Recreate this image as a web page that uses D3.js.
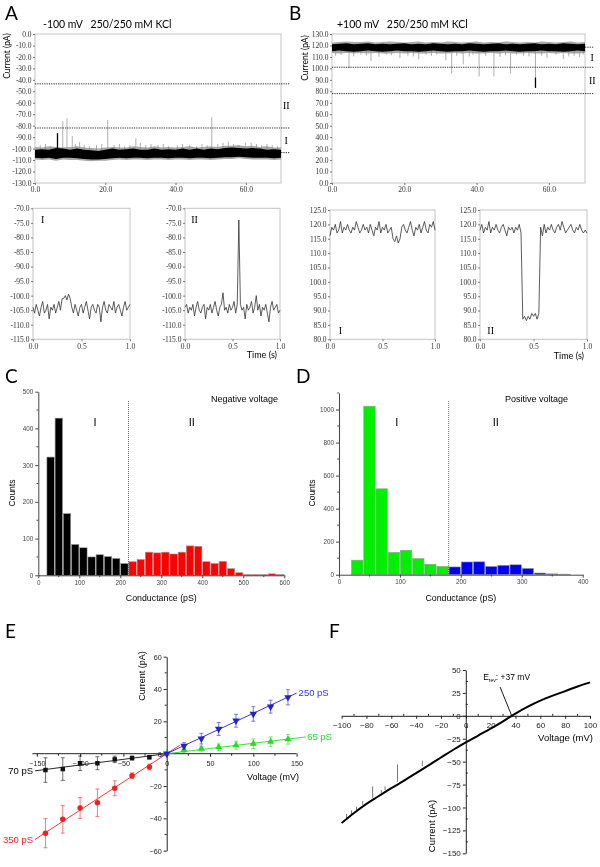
<!DOCTYPE html>
<html><head><meta charset="utf-8">
<script src="https://cdn.jsdelivr.net/npm/d3@7"></script>
<style>body{margin:0;background:#fff}svg{display:block;will-change:transform}</style>
</head><body>
<svg id="c" width="600" height="867"></svg>
<script>
// ---------------- DATA ----------------
// Panel A (top trace, -100 mV)
const aBandT   = [0,2,4,6,8,10,12,14,16,18,20,22,24,26,28,30,32,34,36,38,40,42,44,46,48,50,52,54,56,58,60,62,64,66,68,70];
const aCoreHi  = [-101,-100.5,-101,-99.5,-100,-101,-100,-101,-101.5,-102,-101,-100,-101,-100.5,-100,-101,-101,-100,-101,-100.5,-101,-100,-101,-100,-101,-100,-100.5,-99.5,-99,-99.5,-100,-99.5,-100,-101,-100.5,-101];
const aCoreLo  = [-108,-108.5,-108,-109,-108,-108,-108.5,-109,-109.5,-109.5,-109,-108.5,-108,-108.5,-108,-108,-108.5,-108,-108,-108.5,-108,-108,-108.5,-108,-108,-108.5,-108,-107.5,-107.5,-107,-107.5,-108,-108,-108,-108.5,-108];
const aFringeHi= [-98.5,-99,-98,-98.5,-99,-98.5,-98,-99,-99.5,-100,-99,-98.5,-99,-99,-98,-98.5,-99,-98,-99,-98.5,-99,-98.5,-98,-99,-98.5,-98,-98.5,-97.5,-97.5,-97,-98,-97.5,-98.5,-98,-99,-99];
const aFringeLo= [-109.5,-110,-109.5,-110.5,-109.5,-110,-110,-110.5,-111,-110.5,-110.5,-110,-109.5,-110,-109.5,-109.5,-110,-109.5,-109.5,-110,-109.5,-109.5,-110,-109.5,-109.5,-110,-109.5,-109,-109,-108.5,-109,-109.5,-109.5,-109.5,-110,-109.5];
const aSpikeT    = [6.4,7.9,9.1,10.6,12.7,20.7,28.7,50.3,55.0,59.9];
const aSpikePeak = [-86.5,-76,-73.5,-89,-94,-75,-91,-72.6,-94,-95];
const aSmallT    = [1.5,3,4.5,11.5,14,15.5,17.5,19,22.5,24,25.5,27,30,31.5,33,35,36.5,38,40.5,42,44,46,47.5,49,52,53.5,56.5,58,61.5,63,64.5,66,67.5,69];
const aSmallPeak = [-97,-96,-98,-96,-97,-98,-97,-96,-97,-96,-98,-97,-95,-97,-96,-97,-96,-98,-97,-96,-97,-98,-96,-97,-96,-95,-96,-97,-95,-96,-97,-96,-97,-98];
const aLevels = [-43.5,-82,-103.5];
const aYTicks = [0,-10,-20,-30,-40,-50,-60,-70,-80,-90,-100,-110,-120,-130];
const tXTicks = [0,20,40,60];

// Panel B (top trace, +100 mV)
const bCoreHi  = [121,121.5,122,121,121.5,122,121,121.5,121,121.5,122,121,121.5,121,122,121.5,121,121.5,121,122,121.5,121,121.5,122,121,121.5,121,121.5,122,121,121.5,121,122,121.5,121,121.5];
const bCoreLo  = [115,115.5,115,114.5,115,115.5,115,114.5,115,115.5,115,115,114.5,115,115.5,115,114.5,115,115,115.5,115,114.5,115,115,115.5,115,114.5,115,115,115.5,115,115,114.5,115,115.5,115];
const bFringeHi= [122.5,123,123.5,123,123,123.5,122.5,123,123.5,123,122.5,123,123.5,122.5,123,122.5,123.5,123,122.5,123,123.5,122.5,123,122.5,123.5,123,122.5,123,122.5,123.5,123,122.5,123,123.5,122.5,123];
const bFringeLo= [113.5,113,113.5,113,113.5,113,113.5,113,113,113.5,113,113.5,113,113,113.5,113,113,113.5,113,113.5,113,113,113.5,113,113.5,113,113,113.5,113,113,113.5,113,113.5,113,113,113.5];
const bSpikeT    = [4.7,10.8,18.8,24,31.5,33.1,36.3,40.7,44.8,49.4,56.3,59.5,64,68.5];
const bSpikePeak = [100,106.5,109,108,107,95.5,103.5,93,93,95.5,83,109,108,110];
const bBlackSeg  = [92,83];           // thick dark bottom part of the largest event
const bSmallT    = [1,2.5,6,8,9.5,13,15,16.5,21,22.5,26,27.5,29,34.5,38,39,42.5,46.5,48,51,53,54.5,58,62,65.5,67,69.5];
const bSmallPeak = [111,112,110.5,112,111,110,112,111.5,111,110.5,112,111,112,111,110.5,112,111,110,111.5,112,111,110.5,111,112,110.5,111,112];
const bLevels = [118.5,101,78];
const bYTicks = [0,10,20,30,40,50,60,70,80,90,100,110,120,130];

// Zoomed 1-s traces (61 samples each, 0..1 s)
const zAI  = [-104,-106,-103,-105,-107,-104,-102,-106,-105,-103,-108,-104,-105,-103,-106,-104,-102,-105,-101,-101,-100,-101.5,-99.5,-101,-104,-106,-103,-105,-107,-104,-103,-106,-104,-102,-105,-108,-104,-103,-105,-106,-103,-104,-109,-104,-102,-105,-106,-103,-104,-105,-102,-106,-104,-103,-105,-107,-104,-102,-105,-104,-103];
const zAII = [-104,-103,-106,-104,-105,-103,-107,-104,-102,-105,-106,-104,-103,-108,-104,-105,-103,-106,-104,-102,-105,-107,-104,-103,-99,-105,-104,-106,-103,-105,-104,-102,-106,-103,-74,-103,-105,-104,-108,-103,-105,-104,-102,-106,-104,-100,-105,-103,-107,-104,-105,-103,-106,-109,-104,-102,-105,-104,-103,-106,-105];
const zBI  = [116,119,118,120,117,118,121,117,119,118,120,118,117,119,118,121,119,117,118,120,118,119,117,120,118,116,119,118,121,117,119,118,120,117,118,119,115,114,116,113.5,115,119,120,118,117,119,121,118,116,119,118,120,117,119,121,118,117,120,119,121,118];
const zBII = [118,120,117,119,118,121,117,119,118,120,118,117,119,120,118,116,119,118,119,117,119,118,120,117,87,88,86.5,88,87,89,88,89,87,89,119,116,120,117,119,118,120,118,117,119,120,118,121,119,117,118,119,120,118,117,119,118,120,118,117,118,117];
const zATicksY = [-70,-75,-80,-85,-90,-95,-100,-105,-110,-115];
const zBTicksY = [125,120,115,110,105,100,95,90,85,80];
const zXTicks  = [0,0.5,1];

// Panel C histogram (negative voltage), bin width 20 pS
const cBinBlack = [20,40,60,80,100,120,140,160,180,200];
const cBlack    = [322,428,168,84,75,50,56,51,46,32];
const cBinRed   = [220,240,260,280,300,320,340,360,380,400,420,440,460,480,500,520,540,560,580];
const cRed      = [37,43,63,61,63,58,63,80,79,37,32,38,18,7,2,2,2,4,2];
const cDivide   = 220;
// Panel D histogram (positive voltage)
const dBinGreen = [20,40,60,80,100,120,140,160];
const dGreen    = [88,1020,520,135,148,97,63,50];
const dBinBlue  = [180,200,220,240,260,280,300,320,340,360];
const dBlue     = [47,77,78,50,57,60,38,10,5,3];
const dDivide   = 180;
const binW = 20;

// Panel E I-V points
const eVneg  = [-140,-120,-100,-80,-60,-40,-20];
const e70    = [-10.1,-9.5,-5.9,-5.9,-3.5,-2.7,-2.2];
const e70Err = [7.6,7,4.5,4,2,1.2,1];
const e350   = [-49.2,-40.6,-33.6,-30.3,-21.4,-13.6,-8.2];
const e350Err= [9,8.5,6.5,8.5,4.6,1.8,1.8];
const eVpos  = [0,20,40,60,80,100,120,140];
const e250   = [0,4.8,9.3,15.3,20.4,24.6,29.1,34.9];
const e250Err= [0,2,3.3,4,4,4.5,4,4.7];
const e65    = [0,2.3,3.1,4.0,5.2,6.2,7.4,8.9];
const e65Err = [0,1.5,1.5,2,2.5,3,3,3];
const eFit70  = [[-152,-10.6],[0,0]];
const eFit350 = [[-152,-53],[15,5.2]];
const eFit250 = [[-8,-2],[150,37.5]];
const eFit65  = [[-6,-0.4],[161,10.4]];

// Panel F ramp I-V
const fV = [-100,-90,-80,-70,-60,-50,-40,-30,-20,-10,0,10,20,30,37,40,50,60,70,80,90,100];
const fI = [-117,-106,-96,-87.5,-79,-71,-62.5,-54,-45.5,-37,-29,-21.5,-14,-6,0,2.5,10,16.5,22,27,32,36.5];
const fSpikeV  = [-96,-92,-88,-83,-75,-68,-65,-55,-35];
const fSpikeLo = [-112,-108,-103,-97,-90,-84,-81,-72,-55];
const fSpikeHi = [-107,-103,-99,-93,-77,-81,-77,-53,-49];
const fErev = 37;

// ---------------- DRAWING ----------------
const svg = d3.select("#c");
const SANS = "'Liberation Sans', Arial, sans-serif";
const SERIF = "'Liberation Serif', 'Times New Roman', serif";
const CAL = "Lato, 'Open Sans', sans-serif";

function txt(x, y, s, size, opts={}) {
  const t = svg.append("text").attr("x", x).attr("y", y).text(s)
    .attr("font-family", opts.family || SANS).attr("font-size", size)
    .attr("fill", opts.fill || "#000").attr("text-anchor", opts.anchor || "start");
  if (opts.rotate) t.attr("transform", `rotate(-90,${x},${y})`);
  if (opts.pre) t.style("white-space", "pre");
  return t;
}
function letter(s, x, y) { txt(x, y, s, 19, {family: CAL}); }

function styleAxis(g, family, size, color, tickColor) {
  g.selectAll("text").attr("font-family", family).attr("font-size", size).attr("fill", color);
  g.selectAll(".tick line").attr("stroke", tickColor);
}

function framePanel(x, y, xt, yt, fx, fy) {
  const [x0, x1] = x.range(), [y0, y1] = y.range();
  svg.append("rect").attr("x", x0).attr("y", y1).attr("width", x1 - x0).attr("height", y0 - y1)
    .attr("fill", "none").attr("stroke", "#c4c4c4").attr("stroke-width", 1);
  const ga = svg.append("g").attr("transform", `translate(${x0},0)`)
    .call(d3.axisLeft(y).tickValues(yt).tickFormat(fy).tickSize(2).tickSizeOuter(0).tickPadding(1.5));
  ga.select(".domain").remove();
  styleAxis(ga, SERIF, 7.5, "#333", "#777");
  const gb = svg.append("g").attr("transform", `translate(0,${y0})`)
    .call(d3.axisBottom(x).tickValues(xt).tickFormat(fx).tickSize(2).tickSizeOuter(0).tickPadding(2));
  gb.select(".domain").remove();
  styleAxis(gb, SERIF, 7.5, "#333", "#777");
}
const f1 = d => d.toFixed(1);

// ----- Panel A top -----
const xA = d3.scaleLinear([0, 70], [35, 281]);
const yA = d3.scaleLinear([-130, 0], [183, 34]);
letter("A", 5, 20);
txt(43, 28, "-100 mV   250/250 mM KCl", 10.5, {family: CAL, pre: true});
txt(10, 56, "Current (pA)", 8.5, {family: CAL, rotate: true, anchor: "middle"});
framePanel(xA, yA, tXTicks, aYTicks, f1, f1);

function drawBand(x, y, T, fLo, fHi, cLo, cHi, sT, sP, bigT, bigP, base, bigIdx, blackSeg) {
  const fr = T.map((t, i) => ({t, lo: fLo[i], hi: fHi[i]}));
  const co = T.map((t, i) => ({t, lo: cLo[i], hi: cHi[i]}));
  svg.append("path").datum(fr).attr("fill", "#a8a8a8")
    .attr("d", d3.area().x(d => x(d.t)).y0(d => y(d.lo)).y1(d => y(d.hi)));
  svg.append("g").selectAll("line").data(sT).join("line")
    .attr("x1", d => x(d)).attr("x2", d => x(d)).attr("y1", y(base)).attr("y2", (d, i) => y(sP[i]))
    .attr("stroke", "#888").attr("stroke-width", 0.7);
  svg.append("g").selectAll("line").data(bigT).join("line")
    .attr("x1", d => x(d)).attr("x2", d => x(d)).attr("y1", y(base)).attr("y2", (d, i) => y(bigP[i]))
    .attr("stroke", "#9a9a9a").attr("stroke-width", 0.8);
  svg.append("path").datum(co).attr("fill", "#000")
    .attr("d", d3.area().x(d => x(d.t)).y0(d => y(d.lo)).y1(d => y(d.hi)));
  const bt = bigT[bigIdx];
  const seg = blackSeg || [base, bigP[bigIdx]];
  svg.append("line").attr("x1", x(bt)).attr("x2", x(bt)).attr("y1", y(seg[0])).attr("y2", y(seg[1]))
    .attr("stroke", "#000").attr("stroke-width", 1.3);
}
drawBand(xA, yA, aBandT, aFringeLo, aFringeHi, aCoreLo, aCoreHi, aSmallT, aSmallPeak, aSpikeT, aSpikePeak, -104.5, 0);

function levels(x, y, lv, tEnd) {
  svg.append("g").selectAll("line").data(lv).join("line")
    .attr("x1", x(0)).attr("x2", x(tEnd)).attr("y1", d => y(d)).attr("y2", d => y(d))
    .attr("stroke", "#000").attr("stroke-width", 0.8).attr("stroke-dasharray", "1.3,1");
}
levels(xA, yA, aLevels, 72.5);
txt(xA(71.5), yA((aLevels[0] + aLevels[1]) / 2) + 3.5, "II", 10, {family: SERIF, anchor: "middle"});
txt(xA(71.5), yA((aLevels[1] + aLevels[2]) / 2) + 3.5, "I", 10, {family: SERIF, anchor: "middle"});

// ----- Panel B top -----
const xB = d3.scaleLinear([0, 70], [332, 585]);
const yB = d3.scaleLinear([0, 130], [183, 34]);
letter("B", 289, 20);
txt(337, 28, "+100 mV   250/250 mM KCl", 10.5, {family: CAL, pre: true});
txt(308, 58, "Current (pA)", 8.5, {family: CAL, rotate: true, anchor: "middle"});
framePanel(xB, yB, tXTicks, bYTicks, f1, f1);
drawBand(xB, yB, aBandT, bFringeLo, bFringeHi, bCoreLo, bCoreHi, bSmallT, bSmallPeak, bSpikeT, bSpikePeak, 118, 10, bBlackSeg);
levels(xB, yB, bLevels, 72.5);
txt(xB(72), yB((bLevels[0] + bLevels[1]) / 2) + 3.5, "I", 10, {family: SERIF, anchor: "middle"});
txt(xB(72), yB((bLevels[1] + bLevels[2]) / 2) + 3.5, "II", 10, {family: SERIF, anchor: "middle"});

// ----- Zoomed traces -----
function zoomTrace(xr, yr, dom, ticks, vals, lab, labY, timeLab, timeY) {
  const x = d3.scaleLinear([0, 1], xr);
  const y = d3.scaleLinear(dom, yr);
  framePanel(x, y, zXTicks, ticks, f1, f1);
  const n = vals.length;
  const ix = d3.scaleLinear([0, n - 1], [0, 1]);
  svg.append("path").datum(vals).attr("fill", "none").attr("stroke", "#333").attr("stroke-width", 0.8)
    .attr("stroke-linejoin", "round")
    .attr("d", d3.line().x((d, i) => x(ix(i))).y(d => y(d)));
  txt(x(0.1), y(labY), lab, 10, {family: SERIF, anchor: "middle"});
  if (timeLab) txt(xr[1] - 3, timeY, "Time (s)", 9, {family: CAL, anchor: "end"});
}
zoomTrace([33, 130], [339.3, 208.3], [-115, -70], zATicksY, zAI, "I", -75, false);
zoomTrace([185, 280], [339.3, 208.3], [-115, -70], zATicksY, zAII, "II", -75, true, 358);
zoomTrace([330, 435], [339.3, 210], [80, 125], zBTicksY, zBI, "I", 82, false);
zoomTrace([480, 587], [339.3, 210], [80, 125], zBTicksY, zBII, "II", 82, true, 359);

// ----- Histograms -----
function histo(x, y, yTicks, yMinor, xTicks, xMinor, bins1, v1, col1, bins2, v2, col2, divide, lblText, lblX, countsX, roman1X, roman2X) {
  const [y0] = y.range();
  const gb = svg.append("g");
  const all = bins1.map((b, i) => ({b, v: v1[i], c: col1})).concat(bins2.map((b, i) => ({b, v: v2[i], c: col2})));
  gb.selectAll("rect").data(all).join("rect")
    .attr("x", d => x(d.b) + 0.4).attr("width", d => x(d.b + binW) - x(d.b) - 0.8)
    .attr("y", d => y(d.v)).attr("height", d => y0 - y(d.v))
    .attr("fill", d => d.c).attr("stroke", "#9a9a9a").attr("stroke-width", 0.6);
  const ax = svg.append("g").attr("transform", `translate(${x.range()[0]},0)`)
    .call(d3.axisLeft(y).tickValues(yTicks).tickFormat(d3.format("d")).tickSize(3).tickSizeOuter(0).tickPadding(2));
  styleAxis(ax, SANS, 6.3, "#444", "#444");
  ax.select(".domain").attr("stroke", "#444");
  ax.append("g").selectAll("line").data(yMinor).join("line")
    .attr("x1", -1.8).attr("x2", 0).attr("y1", d => y(d)).attr("y2", d => y(d)).attr("stroke", "#444");
  const bx = svg.append("g").attr("transform", `translate(0,${y0})`)
    .call(d3.axisBottom(x).tickValues(xTicks).tickFormat(d3.format("d")).tickSize(3).tickSizeOuter(0).tickPadding(2));
  styleAxis(bx, SANS, 6.3, "#444", "#444");
  bx.select(".domain").attr("stroke", "#444");
  bx.append("g").selectAll("line").data(xMinor).join("line")
    .attr("y1", 0).attr("y2", 1.8).attr("x1", d => x(d)).attr("x2", d => x(d)).attr("stroke", "#444");
  svg.append("line").attr("x1", x(divide)).attr("x2", x(divide)).attr("y1", 401).attr("y2", y0)
    .attr("stroke", "#444").attr("stroke-width", 0.8).attr("stroke-dasharray", "1,1");
  txt(lblX, 402, lblText, 9);
  txt(countsX, 493, "Counts", 8.5, {rotate: true, anchor: "middle"});
  txt((x.range()[0] + x.range()[1]) / 2, 601, "Conductance (pS)", 8.8, {anchor: "middle"});
  txt(roman1X, 426, "I", 11, {anchor: "middle"});
  txt(roman2X, 426, "II", 11, {anchor: "middle"});
}
const xC = d3.scaleLinear([0, 600], [38.3, 284.3]);
const yC = d3.scaleLinear([0, 500], [575.3, 391.7]);
letter("C", 5, 383);
histo(xC, yC, [0,100,200,300,400,500], [50,150,250,350,450], [0,100,200,300,400,500,600], [50,150,250,350,450,550],
  cBinBlack, cBlack, "#000", cBinRed, cRed, "#ff0000", cDivide, "Negative voltage", 211, 15, 95, 191.7);

const xD = d3.scaleLinear([0, 400], [339, 582.7]);
const yD = d3.scaleLinear([0, 1100], [574.7, 393]);
letter("D", 296, 383);
histo(xD, yD, [0,200,400,600,800,1000], [100,300,500,700,900,1100], [0,100,200,300,400], [50,150,250,350],
  dBinGreen, dGreen, "#00f000", dBinBlue, dBlue, "#0000f0", dDivide, "Positive voltage", 505, 315, 396.7, 495.7);

// ----- Panel E -----
const xE = d3.scaleLinear([-150, 150], [36.8, 296.6]);
const yE = d3.scaleLinear([-60, 60], [850.7, 656.7]);
letter("E", 5, 638);
const exa = svg.append("g").attr("transform", `translate(0,${yE(0)})`)
  .call(d3.axisBottom(xE).tickValues([-150,-100,-50,0,50,100,150]).tickSize(3).tickSizeOuter(0).tickPadding(4));
styleAxis(exa, SANS, 7.2, "#222", "#222");
exa.select(".domain").attr("stroke", "#222").attr("d", `M${xE(-155)},0H${xE(150)}`);
exa.append("g").selectAll("line").data([-125,-75,-25,25,75,125]).join("line")
  .attr("x1", d => xE(d)).attr("x2", d => xE(d)).attr("y1", 0).attr("y2", 2).attr("stroke", "#222");
const eya = svg.append("g").attr("transform", `translate(${xE(0)},0)`)
  .call(d3.axisLeft(yE).tickValues([-60,-40,-20,0,20,40,60]).tickSize(3).tickSizeOuter(0).tickPadding(2));
styleAxis(eya, SANS, 7.2, "#222", "#222");
eya.select(".domain").attr("stroke", "#222");
eya.append("g").selectAll("line").data([-50,-30,-10,10,30,50]).join("line")
  .attr("y1", d => yE(d)).attr("y2", d => yE(d)).attr("x1", -2).attr("x2", 0).attr("stroke", "#222");
txt(145, 676, "Current (pA)", 9, {rotate: true, anchor: "middle"});
txt(299, 780, "Voltage (mV)", 9, {anchor: "end"});

const lineE = d3.line().x(d => xE(d[0])).y(d => yE(d[1]));
function ivSeries(V, I, E, color, fit, sym, size) {
  svg.append("path").datum(fit).attr("d", lineE).attr("stroke", color).attr("stroke-width", 0.9).attr("fill", "none");
  const g = svg.append("g").attr("stroke", color).attr("stroke-width", 0.7).attr("opacity", 0.85);
  V.forEach((v, i) => {
    if (E[i] <= 0) return;
    const xx = xE(v), ya = yE(I[i] - E[i]), yb = yE(I[i] + E[i]);
    g.append("line").attr("x1", xx).attr("x2", xx).attr("y1", ya).attr("y2", yb);
    g.append("line").attr("x1", xx - 2).attr("x2", xx + 2).attr("y1", ya).attr("y2", ya);
    g.append("line").attr("x1", xx - 2).attr("x2", xx + 2).attr("y1", yb).attr("y2", yb);
  });
  svg.append("g").selectAll("path").data(V).join("path")
    .attr("transform", (d, i) => `translate(${xE(d)},${yE(I[i])})${sym === "down" ? " rotate(180)" : ""}`)
    .attr("d", d3.symbol(sym === "sq" ? d3.symbolSquare : sym === "circ" ? d3.symbolCircle : d3.symbolTriangle, size))
    .attr("fill", color);
}
ivSeries(eVneg, e350, e350Err, "#ee2222", eFit350, "circ", 24);
ivSeries(eVneg, e70, e70Err, "#111", eFit70, "sq", 20);
ivSeries(eVpos, e65, e65Err, "#22dd22", eFit65, "up", 22);
ivSeries(eVpos, e250, e250Err, "#2222cc", eFit250, "down", 24);
txt(xE(eFit70[0][0]) - 2, yE(eFit70[0][1]) + 3.5, "70 pS", 9.5, {anchor: "end"});
txt(xE(eFit350[0][0]) - 2, yE(eFit350[0][1]) + 3.5, "350 pS", 9.5, {anchor: "end", fill: "#ee2222"});
txt(xE(eFit250[1][0]) + 2, yE(eFit250[1][1]) + 3, "250 pS", 9.5, {fill: "#3333cc"});
txt(xE(eFit65[1][0]) + 1, yE(eFit65[1][1]) + 3, "65 pS", 9.5, {fill: "#22dd22"});

// ----- Panel F -----
const xF = d3.scaleLinear([-100, 100], [341.6, 590]);
const yF = d3.scaleLinear([-150, 50], [853.3, 670]);
letter("F", 329, 638);
const fxa = svg.append("g").attr("transform", `translate(0,${yF(0)})`)
  .call(d3.axisBottom(xF).tickValues([-100,-80,-60,-40,-20,0,20,40,60,80,100]).tickSize(3).tickSizeOuter(0).tickPadding(4));
styleAxis(fxa, SANS, 8, "#222", "#222");
fxa.select(".domain").attr("stroke", "#222");
fxa.append("g").selectAll("line").data([-90,-70,-50,-30,-10,10,30,50,70,90]).join("line")
  .attr("x1", d => xF(d)).attr("x2", d => xF(d)).attr("y1", -2).attr("y2", 0).attr("stroke", "#222");
const fya = svg.append("g").attr("transform", `translate(${xF(0)},0)`)
  .call(d3.axisLeft(yF).tickValues([-150,-125,-100,-75,-50,-25,0,25,50]).tickSize(3).tickSizeOuter(0).tickPadding(2));
styleAxis(fya, SANS, 8, "#222", "#222");
fya.select(".domain").attr("stroke", "#222");
fya.append("g").selectAll("line").data([-137.5,-112.5,-87.5,-62.5,-37.5,-12.5,12.5,37.5]).join("line")
  .attr("y1", d => yF(d)).attr("y2", d => yF(d)).attr("x1", 0).attr("x2", 2).attr("stroke", "#222");
txt(435, 826, "Current (pA)", 9.5, {rotate: true, anchor: "middle"});
txt(593, 741, "Voltage (mV)", 9.5, {anchor: "end"});
svg.append("g").selectAll("line").data(fSpikeV).join("line")
  .attr("x1", d => xF(d)).attr("x2", d => xF(d)).attr("y1", (d, i) => yF(fSpikeLo[i])).attr("y2", (d, i) => yF(fSpikeHi[i]))
  .attr("stroke", "#555").attr("stroke-width", 0.8);
svg.append("path").datum(fV.map((v, i) => [v, fI[i]]))
  .attr("d", d3.line().x(d => xF(d[0])).y(d => yF(d[1])).curve(d3.curveMonotoneX))
  .attr("fill", "none").attr("stroke", "#000").attr("stroke-width", 2);
// E_rev annotation
svg.append("line").attr("x1", xF(27.6)).attr("y1", yF(31.4)).attr("x2", xF(fErev)).attr("y2", yF(0))
  .attr("stroke", "#000").attr("stroke-width", 0.9);
const et = svg.append("text").attr("x", xF(14)).attr("y", yF(39)).attr("font-family", SANS).attr("font-size", 8.5);
et.append("tspan").text("E");
et.append("tspan").attr("font-size", 5).attr("dy", 2).text("rev");
et.append("tspan").attr("dy", -2).text(": +37 mV");
</script>
</body></html>
